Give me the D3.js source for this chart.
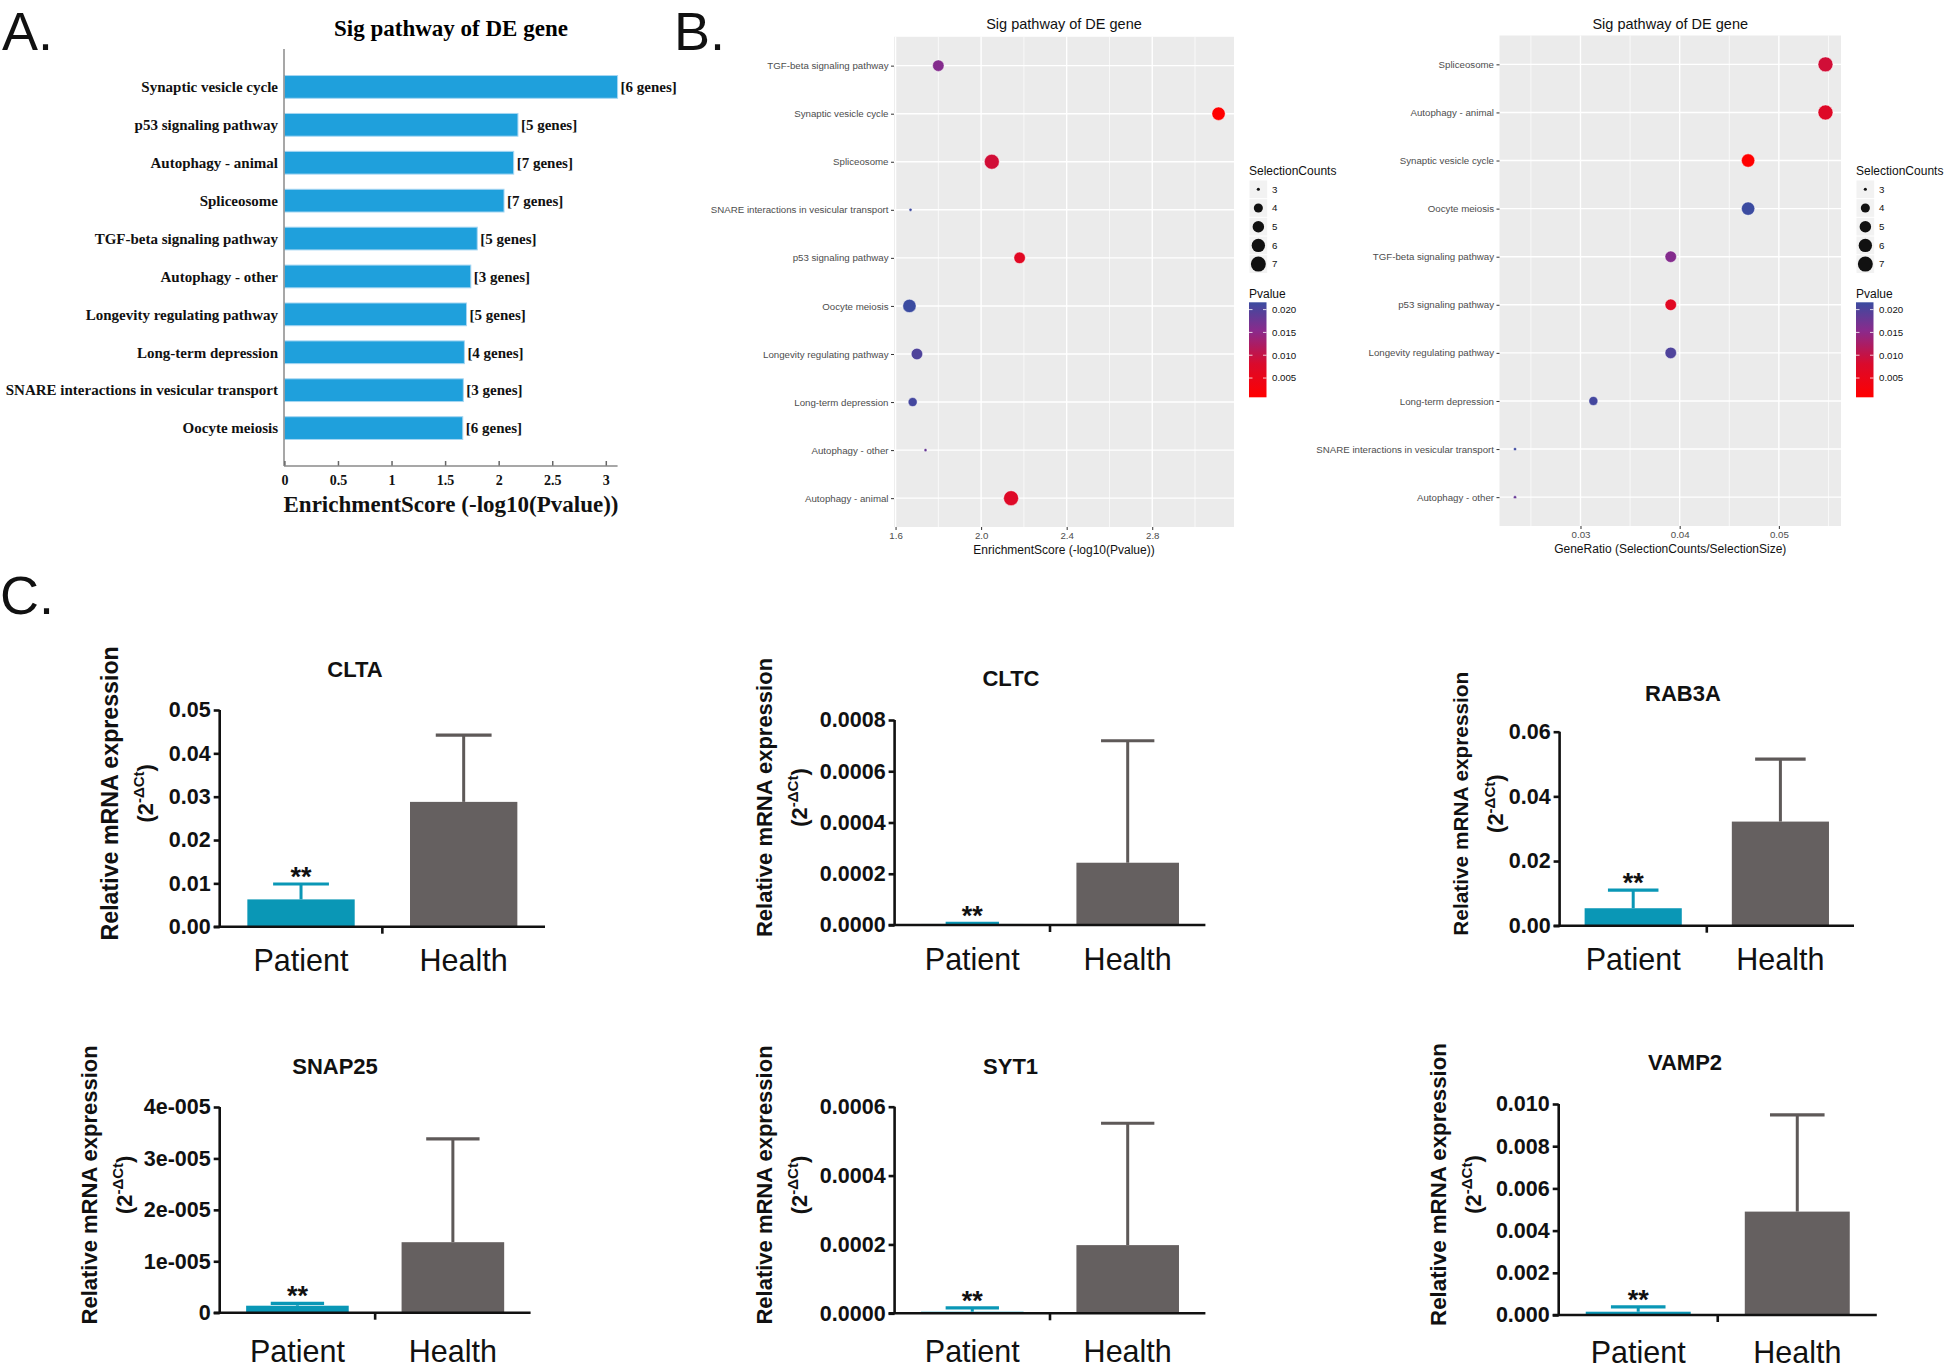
<!DOCTYPE html>
<html><head><meta charset="utf-8">
<script src="https://cdn.jsdelivr.net/npm/d3@7"></script>
<style>body{margin:0;background:#fff}svg{display:block}</style>
</head><body>
<svg id="fig" width="1946" height="1370"></svg>
<script>
// ================= DATA =================
// Panel A / B : KEGG pathways
const pathwaysA = ["Synaptic vesicle cycle","p53 signaling pathway","Autophagy - animal","Spliceosome",
  "TGF-beta signaling pathway","Autophagy - other","Longevity regulating pathway","Long-term depression",
  "SNARE interactions in vesicular transport","Oocyte meiosis"];
const enrichScore = [3.11, 2.18, 2.14, 2.05, 1.80, 1.74, 1.70, 1.68, 1.67, 1.665];
const geneCounts  = [6, 5, 7, 7, 5, 3, 5, 4, 3, 6];
const pValues     = [0.00078, 0.0066, 0.0072, 0.0089, 0.0158, 0.0182, 0.0200, 0.0209, 0.0214, 0.0216];
const geneRatio   = [0.0469, 0.0391, 0.0547, 0.0547, 0.0391, 0.0234, 0.0391, 0.0313, 0.0234, 0.0469];
const orderB1 = ["TGF-beta signaling pathway","Synaptic vesicle cycle","Spliceosome",
  "SNARE interactions in vesicular transport","p53 signaling pathway","Oocyte meiosis",
  "Longevity regulating pathway","Long-term depression","Autophagy - other","Autophagy - animal"];
const orderB2 = ["Spliceosome","Autophagy - animal","Synaptic vesicle cycle","Oocyte meiosis",
  "TGF-beta signaling pathway","p53 signaling pathway","Longevity regulating pathway",
  "Long-term depression","SNARE interactions in vesicular transport","Autophagy - other"];
const ticksA  = [0, 0.5, 1, 1.5, 2, 2.5, 3];
const ticksB1 = [1.6, 2.0, 2.4, 2.8];
const minorB1 = [1.8, 2.2, 2.6, 3.0];
const ticksB2 = [0.03, 0.04, 0.05];
const minorB2 = [0.025, 0.035, 0.045, 0.055];
const countLegend = [3, 4, 5, 6, 7];
const pLegendTicks = [0.005, 0.010, 0.015, 0.020];

// Panel C : qPCR
const genes = ["CLTA","CLTC","RAB3A","SNAP25","SYT1","VAMP2"];
const groups = ["Patient","Health"];
const patientMean = [0.0063, 0.000004, 0.0054, 1.36e-6, 4.6e-6, 0.000156];
const patientErr  = [0.00355, 0.000002, 0.0056, 0.47e-6, 1.1e-5, 0.00023];
const healthMean  = [0.0288, 0.000243, 0.0322, 1.371e-5, 0.000198, 0.0049];
const healthErr   = [0.0154, 0.000476, 0.0193, 2.01e-5, 0.000354, 0.00458];
const yMaxC = [0.05, 0.0008, 0.06, 4e-5, 0.0006, 0.010];
const yTickValsC = [
  [0, 0.01, 0.02, 0.03, 0.04, 0.05],
  [0, 0.0002, 0.0004, 0.0006, 0.0008],
  [0, 0.02, 0.04, 0.06],
  [0, 1e-5, 2e-5, 3e-5, 4e-5],
  [0, 0.0002, 0.0004, 0.0006],
  [0, 0.002, 0.004, 0.006, 0.008, 0.010]];
const yTickLabelsC = [
  ["0.00","0.01","0.02","0.03","0.04","0.05"],
  ["0.0000","0.0002","0.0004","0.0006","0.0008"],
  ["0.00","0.02","0.04","0.06"],
  ["0","1e-005","2e-005","3e-005","4e-005"],
  ["0.0000","0.0002","0.0004","0.0006"],
  ["0.000","0.002","0.004","0.006","0.008","0.010"]];

// ================= LAYOUT / STYLE =================
const SERIF = "'Liberation Serif','Times New Roman',serif";
const SANS  = "'Liberation Sans',Arial,Helvetica,sans-serif";
const svg = d3.select("#fig");

// panel letters
[["A.",2,50],["B.",674,50],["C.",0,614]].forEach(([t,x,y])=>{
  svg.append("text").attr("x",x).attr("y",y).text(t)
    .attr("font-family",SANS).attr("font-size",54).attr("fill","#111");
});

// ---------------- Panel A ----------------
(function(){
  const left = 284, top = 49, bottom = 466;
  const xA = d3.scaleLinear().domain([0,3]).range([284.4, 605.8]);
  const yA = d3.scaleBand().domain(pathwaysA).range([top,bottom]).paddingInner(0.4).paddingOuter(0.7);
  const g = svg.append("g");
  g.append("text").attr("x",451).attr("y",36).attr("text-anchor","middle")
    .attr("font-family",SERIF).attr("font-weight","bold").attr("font-size",23).text("Sig pathway of DE gene");
  g.selectAll("rect.bar").data(pathwaysA).join("rect").attr("class","bar")
    .attr("x",xA(0)).attr("y",d=>yA(d))
    .attr("width",(d,i)=>xA(enrichScore[i])-xA(0)).attr("height",yA.bandwidth())
    .attr("fill","#1fa0dc").attr("stroke","#a6d6f2").attr("stroke-width",1);
  g.selectAll("text.cat").data(pathwaysA).join("text").attr("class","cat")
    .attr("x",278).attr("y",d=>yA(d)+yA.bandwidth()/2).attr("dy","0.35em")
    .attr("text-anchor","end").attr("font-family",SERIF).attr("font-weight","bold").attr("font-size",15)
    .attr("fill","#111").text(d=>d);
  g.selectAll("text.cnt").data(pathwaysA).join("text").attr("class","cnt")
    .attr("x",(d,i)=>xA(enrichScore[i])+3).attr("y",d=>yA(d)+yA.bandwidth()/2).attr("dy","0.35em")
    .attr("font-family",SERIF).attr("font-weight","bold").attr("font-size",15).attr("fill","#111")
    .text((d,i)=>"["+geneCounts[i]+" genes]");
  g.append("line").attr("x1",left).attr("x2",left).attr("y1",top).attr("y2",bottom)
    .attr("stroke","#8a8a8a").attr("stroke-width",1.5);
  const ax = g.append("g").attr("transform",`translate(0,${bottom})`)
    .call(d3.axisBottom(xA).tickValues(ticksA).tickFormat(d=>String(d)).tickSizeInner(-5).tickSizeOuter(0).tickPadding(9));
  ax.select(".domain").remove();
  ax.selectAll(".tick line").attr("stroke","#666").attr("stroke-width",1.5);
  ax.selectAll(".tick text").attr("font-family",SERIF).attr("font-weight","bold").attr("font-size",14).attr("fill","#111");
  g.append("line").attr("x1",left).attr("x2",xA(3.11)).attr("y1",bottom).attr("y2",bottom)
    .attr("stroke","#8a8a8a").attr("stroke-width",1.5);
  g.append("text").attr("x",451).attr("y",512).attr("text-anchor","middle")
    .attr("font-family",SERIF).attr("font-weight","bold").attr("font-size",23).attr("fill","#111")
    .text("EnrichmentScore (-log10(Pvalue))");
})();

// ---------------- Panel B ----------------
const pExt = d3.extent(pValues);
const colorP = d3.scaleLinear()
  .domain([0, 0.35, 0.7, 1].map(t=>pExt[0]+t*(pExt[1]-pExt[0])))
  .range(["#ff0000","#da0a2c","#8a2a8c","#3b4ba0"]).interpolate(d3.interpolateRgb);
const sizeRaw = d3.scaleLinear().domain([0,1]).range([1,6]);
function radius(c){ // ggplot area scale, size->pixel diameter
  const s = sizeRaw(Math.sqrt((c-3)/4));
  return (s*2.845 + 0.945)*0.83/2;
}
function expanded(ext){ const r = ext[1]-ext[0]; return [ext[0]-0.05*r, ext[1]+0.05*r]; }

function dotPlot(cfg){
  const g = svg.append("g");
  const x = d3.scaleLinear().domain(expanded(d3.extent(cfg.xvals))).range([cfg.left,cfg.right]);
  const y = d3.scalePoint().domain(cfg.order).range([cfg.top,cfg.bottom]).padding(0.6);
  g.append("rect").attr("x",cfg.left).attr("y",cfg.top).attr("width",cfg.right-cfg.left)
    .attr("height",cfg.bottom-cfg.top).attr("fill","#ebebeb");
  cfg.minor.forEach(v=>g.append("line").attr("x1",x(v)).attr("x2",x(v)).attr("y1",cfg.top).attr("y2",cfg.bottom)
    .attr("stroke","#fff").attr("stroke-width",0.7));
  cfg.ticks.forEach(v=>g.append("line").attr("x1",x(v)).attr("x2",x(v)).attr("y1",cfg.top).attr("y2",cfg.bottom)
    .attr("stroke","#fff").attr("stroke-width",1.4));
  cfg.order.forEach(c=>g.append("line").attr("x1",cfg.left).attr("x2",cfg.right).attr("y1",y(c)).attr("y2",y(c))
    .attr("stroke","#fff").attr("stroke-width",1.4));
  g.selectAll("circle").data(pathwaysA).join("circle")
    .attr("cx",(d,i)=>x(cfg.xvals[i])).attr("cy",d=>y(d))
    .attr("r",(d,i)=>radius(geneCounts[i])).attr("fill",(d,i)=>colorP(pValues[i]))
    .attr("stroke","#ffffff").attr("stroke-opacity",0.6).attr("stroke-width",0.8);
  const ay = g.append("g").attr("transform",`translate(${cfg.left},0)`)
    .call(d3.axisLeft(y).tickSize(3).tickPadding(2.5));
  ay.select(".domain").remove();
  ay.selectAll(".tick line").attr("stroke","#333");
  ay.selectAll(".tick text").attr("font-family",SANS).attr("font-size",9.7).attr("fill","#4d4d4d");
  const axb = g.append("g").attr("transform",`translate(0,${cfg.bottom})`)
    .call(d3.axisBottom(x).tickValues(cfg.ticks).tickFormat(cfg.fmt).tickSize(3).tickPadding(2.5));
  axb.select(".domain").remove();
  axb.selectAll(".tick line").attr("stroke","#333");
  axb.selectAll(".tick text").attr("font-family",SANS).attr("font-size",9.7).attr("fill","#4d4d4d");
  g.append("text").attr("x",(cfg.left+cfg.right)/2).attr("y",cfg.bottom+27).attr("text-anchor","middle")
    .attr("font-family",SANS).attr("font-size",12).attr("fill","#111").text(cfg.xtitle);
  g.append("text").attr("x",(cfg.left+cfg.right)/2).attr("y",29).attr("text-anchor","middle")
    .attr("font-family",SANS).attr("font-size",14.5).attr("fill","#111").text("Sig pathway of DE gene");
  // legends
  const lx = cfg.legendX;
  g.append("text").attr("x",lx).attr("y",175).attr("font-family",SANS).attr("font-size",12).attr("fill","#111").text("SelectionCounts");
  const ks = 18.7;
  countLegend.forEach((c,k)=>{
    const cy = 189.3 + k*ks;
    g.append("rect").attr("x",lx+0.5).attr("y",cy-ks/2+0.5).attr("width",ks-1).attr("height",ks-1).attr("fill","#f2f2f2");
    g.append("circle").attr("cx",lx+ks/2).attr("cy",cy).attr("r",radius(c)).attr("fill","#111");
    g.append("text").attr("x",lx+23).attr("y",cy).attr("dy","0.35em").attr("font-family",SANS)
      .attr("font-size",9.7).attr("fill","#111").text(c);
  });
  g.append("text").attr("x",lx).attr("y",298).attr("font-family",SANS).attr("font-size",12).attr("fill","#111").text("Pvalue");
  const cbTop = 302.3, cbBot = 397.3, cbW = 17.5;
  const yc = d3.scaleLinear().domain(pExt).range([cbBot,cbTop]);
  const gid = "grad"+cfg.id;
  const grad = svg.append("defs").append("linearGradient").attr("id",gid)
    .attr("x1",0).attr("x2",0).attr("y1",1).attr("y2",0);
  d3.range(0,1.0001,0.05).forEach(t=>grad.append("stop").attr("offset",t)
    .attr("stop-color",colorP(pExt[0]+t*(pExt[1]-pExt[0]))));
  g.append("rect").attr("x",lx).attr("y",cbTop).attr("width",cbW).attr("height",cbBot-cbTop).attr("fill",`url(#${gid})`);
  pLegendTicks.forEach(v=>{
    g.append("line").attr("x1",lx).attr("x2",lx+3.5).attr("y1",yc(v)).attr("y2",yc(v)).attr("stroke","#fff").attr("stroke-width",0.8);
    g.append("line").attr("x1",lx+cbW-3.5).attr("x2",lx+cbW).attr("y1",yc(v)).attr("y2",yc(v)).attr("stroke","#fff").attr("stroke-width",0.8);
    g.append("text").attr("x",lx+23).attr("y",yc(v)).attr("dy","0.35em").attr("font-family",SANS)
      .attr("font-size",9.7).attr("fill","#111").text(d3.format(".3f")(v));
  });
}
dotPlot({id:1, xvals:enrichScore, order:orderB1, left:894, right:1234, top:36.8, bottom:527,
  ticks:ticksB1, minor:minorB1, fmt:d3.format(".1f"), xtitle:"EnrichmentScore (-log10(Pvalue))", legendX:1249});
dotPlot({id:2, xvals:geneRatio, order:orderB2, left:1499.5, right:1841, top:35.5, bottom:526,
  ticks:ticksB2, minor:minorB2, fmt:d3.format(".2f"), xtitle:"GeneRatio (SelectionCounts/SelectionSize)", legendX:1856});

// ---------------- Panel C ----------------
const layoutC = [
  {ax:219.7, top:710,   bottom:926.7, right:545,    tx:355,    ty:669,  ytx:110,    lab:44, yf:23.2},
  {ax:894.6, top:720,   bottom:925,   right:1205.4, tx:1011,   ty:678,  ytx:764,    lab:45, yf:22},
  {ax:1559.6,top:731.7, bottom:925.7, right:1854,   tx:1683,   ty:693,  ytx:1460.7, lab:44, yf:20.8},
  {ax:219.7, top:1107,  bottom:1312.7,right:530.6,  tx:335,    ty:1066, ytx:89,     lab:49.5, yf:22},
  {ax:894.6, top:1106.7,bottom:1313.3,right:1205.4, tx:1010.6, ty:1066, ytx:764,    lab:49, yf:22},
  {ax:1558.7,top:1104,  bottom:1315,  right:1876.8, tx:1685,   ty:1062, ytx:1438,   lab:47.5, yf:22.3}];
const fillC = {Patient:"#0a97b6", Health:"#656060"};
const errC  = {Patient:"#0a97b6", Health:"#5e5958"};

genes.forEach((gene,i)=>{
  const L = layoutC[i];
  const g = svg.append("g");
  const y = d3.scaleLinear().domain([0,yMaxC[i]]).range([L.bottom,L.top]);
  const x = d3.scaleBand().domain(groups).range([L.ax,L.right]).paddingInner(0.34).paddingOuter(0.17);
  const rows = [{g:"Patient",m:patientMean[i],e:patientErr[i]},{g:"Health",m:healthMean[i],e:healthErr[i]}];
  const bw = x.bandwidth(), cap = bw*0.52;
  rows.forEach(r=>{
    const cx = x(r.g)+bw/2;
    g.append("line").attr("x1",cx).attr("x2",cx).attr("y1",y(r.m)).attr("y2",y(r.m+r.e))
      .attr("stroke",errC[r.g]).attr("stroke-width",3);
    g.append("line").attr("x1",cx-cap/2).attr("x2",cx+cap/2).attr("y1",y(r.m+r.e)).attr("y2",y(r.m+r.e))
      .attr("stroke",errC[r.g]).attr("stroke-width",3.2);
  });
  g.selectAll("rect").data(rows).join("rect")
    .attr("x",d=>x(d.g)).attr("y",d=>y(d.m)).attr("width",bw).attr("height",d=>L.bottom-y(d.m))
    .attr("fill",d=>fillC[d.g]);
  g.append("text").attr("x",x("Patient")+bw/2).attr("y",y(rows[0].m+rows[0].e)+2)
    .attr("text-anchor","middle").attr("font-family",SANS).attr("font-weight","bold")
    .attr("font-size",27).attr("fill","#111").text("**");
  const ay = g.append("g").attr("transform",`translate(${L.ax},0)`)
    .call(d3.axisLeft(y).tickValues(yTickValsC[i]).tickFormat((d,j)=>yTickLabelsC[i][j]).tickSize(6).tickPadding(3));
  ay.select(".domain").attr("stroke","#111").attr("stroke-width",2.6).attr("d",`M0,${L.top}V${L.bottom}`);
  ay.selectAll(".tick line").attr("stroke","#111").attr("stroke-width",2.6);
  ay.selectAll(".tick text").attr("font-family",SANS).attr("font-weight","bold").attr("font-size",21.5).attr("fill","#111");
  g.append("line").attr("x1",L.ax-6).attr("x2",L.right).attr("y1",L.bottom).attr("y2",L.bottom)
    .attr("stroke","#111").attr("stroke-width",2.6);
  const mid = (L.ax+L.right)/2;
  g.append("line").attr("x1",mid).attr("x2",mid).attr("y1",L.bottom).attr("y2",L.bottom+7)
    .attr("stroke","#111").attr("stroke-width",2.6);
  groups.forEach(grp=>g.append("text").attr("x",x(grp)+bw/2).attr("y",L.bottom+L.lab)
    .attr("text-anchor","middle").attr("font-family",SANS).attr("font-size",30.5).attr("fill","#111").text(grp));
  g.append("text").attr("x",L.tx).attr("y",L.ty).attr("dy","0.35em").attr("text-anchor","middle")
    .attr("font-family",SANS).attr("font-weight","bold").attr("font-size",22).attr("fill","#111").text(gene);
  const cy = (L.top+L.bottom)/2 - 25;
  g.append("text").attr("transform",`translate(${L.ytx},${cy}) rotate(-90)`).attr("dy","0.35em")
    .attr("text-anchor","middle").attr("font-family",SANS).attr("font-weight","bold").attr("font-size",L.yf)
    .attr("fill","#111").text("Relative mRNA expression");
  const t2 = g.append("text").attr("transform",`translate(${L.ytx+35},${cy}) rotate(-90)`).attr("dy","0.35em")
    .attr("text-anchor","middle").attr("font-family",SANS).attr("font-weight","bold").attr("font-size",22).attr("fill","#111");
  t2.append("tspan").text("(2");
  t2.append("tspan").attr("font-size",15).attr("dy","-0.55em").text("-ΔCt");
  t2.append("tspan").attr("dy","0.37em").text(")");
});
</script>
</body></html>
